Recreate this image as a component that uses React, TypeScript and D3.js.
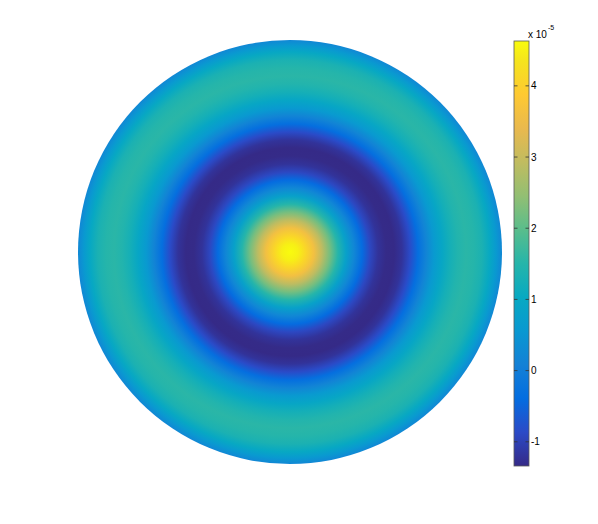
import React, { useEffect, useRef } from 'react';
import * as d3 from 'd3';

// radial profile of the field, radius as fraction of the disk radius, values x 1e-5
const radius = [0, 0.038, 0.075, 0.113, 0.151, 0.189, 0.226, 0.264, 0.302, 0.34, 0.377, 0.415, 0.453, 0.491,
  0.528, 0.566, 0.604, 0.642, 0.679, 0.717, 0.755, 0.792, 0.83, 0.868, 0.906, 0.943, 0.972, 1];
const value = [4.63, 4.5, 4.1, 3.6, 2.9, 2.2, 1.5, 0.8, 0.2, -0.4, -0.9, -1.2, -1.33, -1.34,
  -1.2, -0.85, -0.35, 0.15, 0.6, 0.95, 1.25, 1.45, 1.55, 1.5, 1.35, 1.0, 0.6, 0.2];

const colorDomain = [-1.34, 4.63];
const colorTicks = [-1, 0, 1, 2, 3, 4];

// parula, sampled from the 64 colour map
const parula = ['#352a87', '#2b4ac7', '#046de0', '#1481d6', '#0998d1', '#07a9c2', '#25b5aa',
  '#59bd8c', '#92bf73', '#c0bc60', '#e9b94e', '#fec932', '#f5e41d', '#f9fb0e'];
const parulaPos = [0, 5, 10, 15, 20, 25, 30, 35, 40, 45, 50, 55, 60, 63].map((i) => i / 63);

export default function App() {
  const ref = useRef<SVGSVGElement>(null);

  useEffect(() => {
    const svg = d3.select(ref.current);
    svg.selectAll('*').remove();

    const color = d3.scaleLinear<string>()
      .domain(parulaPos.map((p) => colorDomain[0] + p * (colorDomain[1] - colorDomain[0])))
      .range(parula)
      .interpolate(d3.interpolateRgb)
      .clamp(true);

    const cx = 290;
    const cy = 252;
    const R = 212;
    const r = d3.scaleLinear().domain([0, 1]).range([0, R]);

    const defs = svg.append('defs');
    const rg = defs.append('radialGradient').attr('id', 'field');
    rg.selectAll('stop')
      .data(radius)
      .enter().append('stop')
      .attr('offset', (d) => d)
      .attr('stop-color', (d, i) => color(value[i]));

    svg.append('circle')
      .attr('cx', cx)
      .attr('cy', cy)
      .attr('r', r(1))
      .attr('fill', 'url(#field)');

    // colorbar
    const bx = 514;
    const bw = 15;
    const y = d3.scaleLinear().domain(colorDomain).range([466, 41]);

    const lg = defs.append('linearGradient').attr('id', 'cbar')
      .attr('x1', 0).attr('y1', 1).attr('x2', 0).attr('y2', 0);
    lg.selectAll('stop')
      .data(parula)
      .enter().append('stop')
      .attr('offset', (d, i) => parulaPos[i])
      .attr('stop-color', (d) => d);

    svg.append('rect')
      .attr('x', bx)
      .attr('y', y(colorDomain[1]))
      .attr('width', bw)
      .attr('height', y(colorDomain[0]) - y(colorDomain[1]))
      .attr('fill', 'url(#cbar)')
      .attr('stroke', '#5a5a5a')
      .attr('stroke-width', 0.8);

    const tick = svg.append('g').selectAll('g')
      .data(colorTicks)
      .enter().append('g')
      .attr('transform', (d) => `translate(0,${y(d)})`);

    tick.append('line')
      .attr('x1', bx).attr('x2', bx + 3.5)
      .attr('stroke', '#333').attr('stroke-width', 0.8);
    tick.append('line')
      .attr('x1', bx + bw - 3.5).attr('x2', bx + bw)
      .attr('stroke', '#333').attr('stroke-width', 0.8);
    tick.append('text')
      .attr('x', bx + bw + 2)
      .attr('dy', '0.35em')
      .style('font-family', 'Liberation Sans, Arial, sans-serif')
      .style('font-size', '10px')
      .style('fill', '#000')
      .text((d) => d);

    const exp = svg.append('text')
      .attr('x', 528)
      .attr('y', 38)
      .style('font-family', 'Liberation Sans, Arial, sans-serif')
      .style('font-size', '10px')
      .style('fill', '#000')
      .text('x 10');
    svg.append('text')
      .attr('x', 548)
      .attr('y', 30)
      .style('font-family', 'Liberation Sans, Arial, sans-serif')
      .style('font-size', '7px')
      .style('fill', '#000')
      .text('-5');
    void exp;
  }, []);

  return (
    <svg ref={ref} width={598} height={524}
      style={{ position: 'absolute', left: 0, top: 0, background: '#fff' }} />
  );
}
